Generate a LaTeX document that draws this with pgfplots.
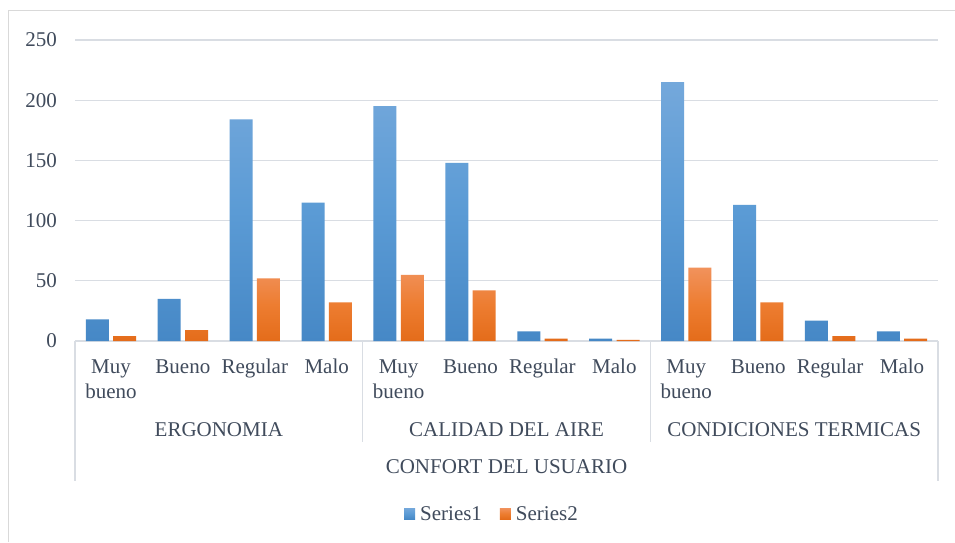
\documentclass[border=0pt]{standalone}
\usepackage{pgfplots}
\pgfplotsset{compat=1.18}
\usepackage{fontspec}
\setmainfont{Liberation Serif}
\definecolor{gridcol}{RGB}{217,221,227}
\definecolor{framecol}{RGB}{217,217,217}
\definecolor{txt}{RGB}{64,75,92}
\definecolor{btop}{RGB}{116,168,219}
\definecolor{bmid}{RGB}{91,155,213}
\definecolor{bbot}{RGB}{70,136,198}
\definecolor{otop}{RGB}{241,146,92}
\definecolor{omid}{RGB}{237,125,49}
\definecolor{obot}{RGB}{228,108,26}
\newcommand{\ff}{\fontsize{21}{25}\selectfont}
\begin{document}
\begin{tikzpicture}[x=1pt,y=1pt]
\path[use as bounding box] (0,0) rectangle (955,542);
\fill[white] (0,0) rectangle (955,542);
\draw[framecol, line width=1pt] (8,0) -- (8,531) -- (955,531);
\begin{axis}[
  at={(75pt,201pt)}, anchor=south west,
  scale only axis, width=863pt, height=301pt,
  xmin=-0.5, xmax=11.5, ymin=0, ymax=250,
  ytick={0,50,100,150,200,250},
  xtick={0,...,11},
  xticklabels={\strut Muy bueno,\strut Bueno,\strut Regular,\strut Malo,\strut Muy bueno,\strut Bueno,\strut Regular,\strut Malo,\strut Muy bueno,\strut Bueno,\strut Regular,\strut Malo},
  major tick length=0pt,
  /pgf/number format/assume math mode=true,
  ymajorgrids, grid style={gridcol, line width=1.2pt},
  axis x line*=bottom, axis y line*=left,
  x axis line style={gridcol, line width=1.2pt, -},
  y axis line style={draw=none},
  tick label style={font=\ff, text=txt},
  yticklabel style={inner sep=0pt, xshift=-18pt},
  xticklabel style={text width=70pt, align=center, inner sep=0pt, yshift=-14.5pt},
  ybar, bar width=0.32,
  clip=false,
  legend style={at={(0.4826,-0.575)}, anchor=center, draw=none, fill=none,
    legend columns=2, font=\ff, text=txt,
    /tikz/every odd column/.append style={column sep=4pt},
    /tikz/every even column/.append style={column sep=17pt},
    nodes={inner sep=1pt}},
  legend image code/.code={\path[#1] (0pt,-5pt) rectangle (11pt,6pt);},
]
\addplot[draw=none, bar shift=-0.19, top color=btop, bottom color=bbot, middle color=bmid]
  coordinates {(0,18) (1,35) (2,184) (3,115) (4,195) (5,148) (6,8) (7,2) (8,215) (9,113) (10,17) (11,8)};
\addplot[draw=none, bar shift=0.19, top color=otop, bottom color=obot, middle color=omid]
  coordinates {(0,4) (1,9) (2,52) (3,32) (4,55) (5,42) (6,2) (7,1) (8,61) (9,32) (10,4) (11,2)};
\legend{Series1,Series2}
\draw[gridcol, line width=1.2pt] (axis cs:-0.5,0) -- ([yshift=-140pt]axis cs:-0.5,0);
\draw[gridcol, line width=1.2pt] (axis cs:11.5,0) -- ([yshift=-140pt]axis cs:11.5,0);
\draw[gridcol, line width=1.2pt] (axis cs:3.5,0) -- ([yshift=-101pt]axis cs:3.5,0);
\draw[gridcol, line width=1.2pt] (axis cs:7.5,0) -- ([yshift=-101pt]axis cs:7.5,0);
\node[font=\ff, text=txt, anchor=base, inner sep=0pt] at ([yshift=-95pt]axis cs:1.5,0) {ERGONOMIA};
\node[font=\ff, text=txt, anchor=base, inner sep=0pt] at ([yshift=-95pt]axis cs:5.5,0) {CALIDAD DEL AIRE};
\node[font=\ff, text=txt, anchor=base, inner sep=0pt] at ([yshift=-95pt]axis cs:9.5,0) {CONDICIONES TERMICAS};
\node[font=\ff, text=txt, anchor=base, inner sep=0pt] at ([yshift=-132pt]axis cs:5.5,0) {CONFORT DEL USUARIO};
\end{axis}
\end{tikzpicture}
\end{document}
